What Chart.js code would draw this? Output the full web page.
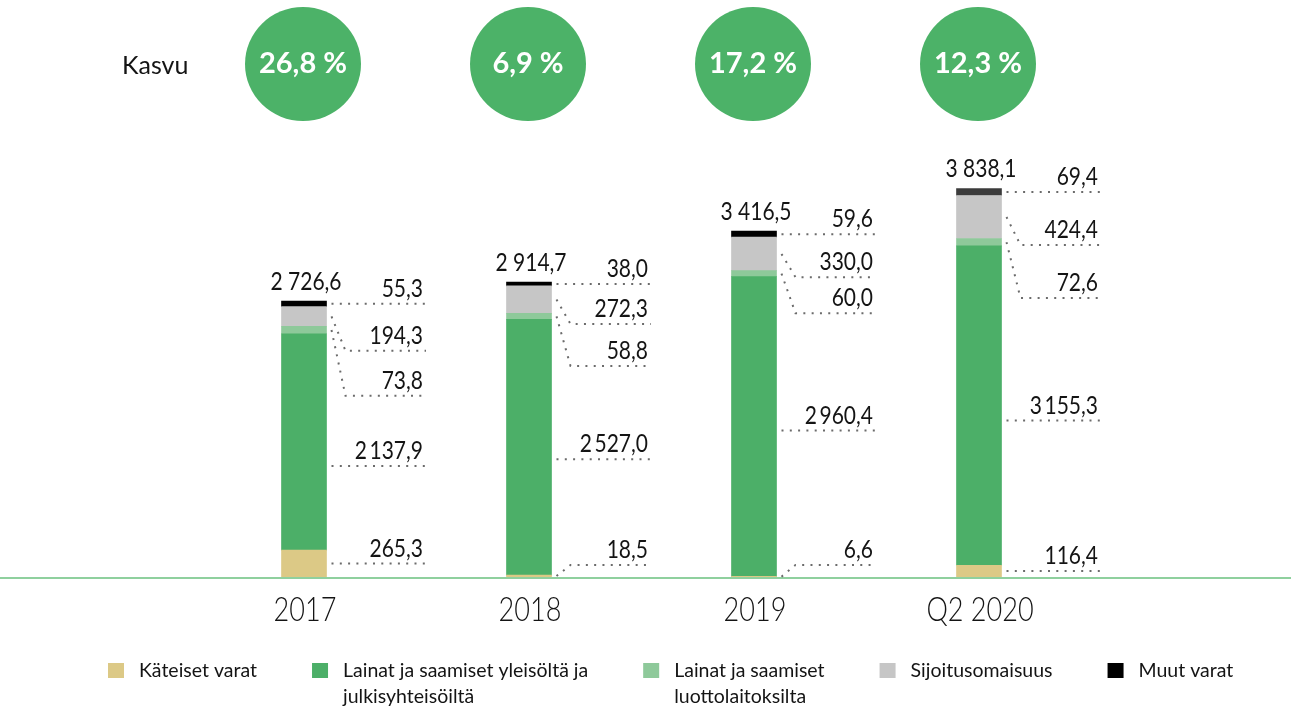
<!DOCTYPE html>
<html>
<head>
<meta charset="utf-8">
<script src="https://cdn.jsdelivr.net/npm/chart.js@4.4.1/dist/chart.umd.min.js"></script>
<style>
  html, body { margin: 0; padding: 0; background: #fff; }
  #wrap { width: 1291px; height: 708px; position: relative; }
</style>
</head>
<body>
<div id="wrap"><canvas id="assets"></canvas></div>
<script>
const categories = ['2017', '2018', '2019', 'Q2 2020'];
const kateiset = [265.3, 18.5, 6.6, 116.4];
const lainatYleiso = [2137.9, 2527.0, 2960.4, 3155.3];
const lainatLuotto = [73.8, 58.8, 60.0, 72.6];
const sijoitus = [194.3, 272.3, 330.0, 424.4];
const muutVarat = [55.3, 38.0, 59.6, 69.4];
const totals = [2726.6, 2914.7, 3416.5, 3838.1];
const growth = [26.8, 6.9, 17.2, 12.3];
const seriesNames = ['Käteiset varat', 'Lainat ja saamiset yleisöltä ja julkisyhteisöiltä',
    'Lainat ja saamiset luottolaitoksilta', 'Sijoitusomaisuus', 'Muut varat'];

const FONT = 'Lato, "Open Sans", sans-serif';
const INK = '#141414';

// label rows for the three thin top segments, and nudges for the big green one (px)
const topRowGaps = [[47, 45], [40, 42], [43, 36], [53, 53]];
const greenShift = [24, 12, 4, 15];

function fmt(v, sep) {
    const parts = v.toFixed(1).split('.');
    return parts[0].replace(/\B(?=(\d{3})+(?!\d))/g, sep) + ',' + parts[1];
}

// the original face is a condensed one, so squeeze Lato a bit
function squeezeText(ctx, str, x, y, align, sx) {
    ctx.save();
    ctx.translate(x, y);
    ctx.scale(sx, 1);
    ctx.textAlign = align;
    ctx.fillText(str, 0, 0);
    ctx.restore();
}

function dotted(ctx, pts) {
    ctx.save();
    ctx.strokeStyle = '#6b6b6b';
    ctx.lineWidth = 2;
    ctx.setLineDash([2, 6.3]);
    ctx.beginPath();
    ctx.moveTo(pts[0][0], pts[0][1]);
    for (let k = 1; k < pts.length; k++) ctx.lineTo(pts[k][0], pts[k][1]);
    ctx.stroke();
    ctx.restore();
}

function wrapText(ctx, text, maxW) {
    const words = text.split(' ');
    const lines = [];
    let line = '';
    words.forEach(w => {
        const test = line ? line + ' ' + w : w;
        if (ctx.measureText(test).width > maxW && line) {
            lines.push(line);
            line = w;
        } else {
            line = test;
        }
    });
    lines.push(line);
    return lines;
}

const assetLabels = {
    id: 'assetLabels',
    afterDatasetsDraw(chart) {
        const ctx = chart.ctx;
        const yScale = chart.scales.y;
        const xScale = chart.scales.x;

        // baseline across the whole picture
        const baseY = yScale.getPixelForValue(0);
        ctx.save();
        ctx.strokeStyle = '#8fd09e';
        ctx.lineWidth = 2;
        ctx.beginPath();
        ctx.moveTo(0, baseY + 1);
        ctx.lineTo(chart.width, baseY + 1);
        ctx.stroke();
        ctx.restore();

        categories.forEach((cat, i) => {
            const els = chart.data.datasets.map((ds, d) => chart.getDatasetMeta(d).data[i]);
            const cx = xScale.getPixelForValue(i);
            const barRight = els[0].x + els[0].width / 2;
            const lineStart = barRight + 5;
            const elbowX = barRight + 19;
            const lineEnd = cx + 122;
            const textRight = cx + 119;

            const mid = el => (el.y + el.base) / 2;
            const muutRow = mid(els[4]);
            const sijRow = muutRow + topRowGaps[i][0];
            const luotRow = sijRow + topRowGaps[i][1];
            const greenRow = mid(els[1]) + greenShift[i];
            const tanRow = (els[0].base - els[0].y >= 8) ? mid(els[0]) : els[0].base - 12;
            const rows = [tanRow, greenRow, luotRow, sijRow, muutRow];

            ctx.save();
            ctx.fillStyle = INK;
            ctx.font = '25px ' + FONT;
            ctx.textBaseline = 'alphabetic';
            chart.data.datasets.forEach((ds, d) => {
                const el = els[d];
                const row = rows[d];
                if (row >= el.y - 1 && row <= el.base + 1) {
                    dotted(ctx, [[lineStart, row], [lineEnd, row]]);
                } else {
                    dotted(ctx, [[lineStart, mid(el)], [elbowX, row], [lineEnd, row]]);
                }
                squeezeText(ctx, fmt(ds.data[i], '\u2009'), textRight, row - 7, 'right', 0.84);
            });

            // total above the bar
            squeezeText(ctx, fmt(totals[i], ' '), cx + 2, els[4].y - 11, 'center', 0.84);

            // category label under the baseline
            ctx.font = '300 33px ' + FONT;
            squeezeText(ctx, cat, cx + 1, baseY + 44, 'center', 0.82);
            ctx.restore();

            // growth bubble
            ctx.save();
            ctx.fillStyle = '#4cb268';
            ctx.beginPath();
            ctx.ellipse(cx - 1, 64, 58, 57, 0, 0, Math.PI * 2);
            ctx.fill();
            ctx.fillStyle = '#fff';
            ctx.font = 'bold 29px ' + FONT;
            ctx.textAlign = 'center';
            ctx.textBaseline = 'middle';
            ctx.fillText(fmt(growth[i], '') + ' %', cx - 1, 64);
            ctx.restore();
        });

        ctx.save();
        ctx.fillStyle = INK;
        ctx.font = '25px ' + FONT;
        ctx.textBaseline = 'middle';
        ctx.fillText('Kasvu', 122, 66);

        // legend
        ctx.font = '19.5px ' + FONT;
        let lx = 108;
        chart.data.datasets.forEach(ds => {
            ctx.fillStyle = ds.legendColor;
            ctx.fillRect(lx, 663, 16, 15);
            ctx.fillStyle = INK;
            const lines = wrapText(ctx, ds.label, 260);
            lines.forEach((ln, k) => ctx.fillText(ln, lx + 31, 671 + k * 26));
            const w = Math.max(...lines.map(ln => ctx.measureText(ln).width));
            lx += 31 + w + 55;
        });
        ctx.restore();
    }
};

const colors = ['#dcc986', '#4caf68', '#8ec99a', '#c6c6c6', '#000000'];
const seriesData = [kateiset, lainatYleiso, lainatLuotto, sijoitus, muutVarat];

new Chart(document.getElementById('assets'), {
    type: 'bar',
    data: {
        labels: categories,
        datasets: seriesData.map((vals, d) => ({
            label: seriesNames[d],
            data: vals,
            legendColor: colors[d],
            backgroundColor: d === 4 ? ['#000000', '#000000', '#000000', '#3b3b3b'] : colors[d],
            borderWidth: 0,
            barThickness: 45
        }))
    },
    options: {
        responsive: true,
        maintainAspectRatio: false,
        animation: false,
        layout: { padding: { left: 191.5, right: 199.5, top: 121.5, bottom: 131 } },
        plugins: {
            legend: { display: false },
            tooltip: { enabled: false }
        },
        scales: {
            x: { stacked: true, display: false },
            y: { stacked: true, display: false, min: 0, max: 4500 }
        }
    },
    plugins: [assetLabels]
});
</script>
</body>
</html>
